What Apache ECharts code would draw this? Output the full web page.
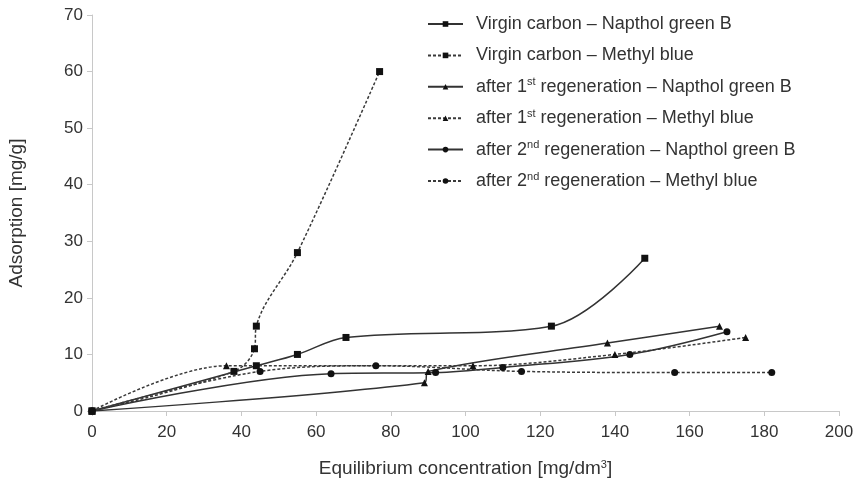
<!DOCTYPE html>
<html>
<head>
<meta charset="utf-8">
<script src="https://cdn.jsdelivr.net/npm/echarts@6.0.0/dist/echarts.min.js"></script>
<style>
  html, body { margin: 0; padding: 0; background: #fff; }
  #chart { width: 854px; height: 480px; }
</style>
</head>
<body>
<div id="chart"></div>
<script>
// ============================================================
// Adsorption vs equilibrium concentration
// ============================================================

var SERIES_NAMES = [
  'Virgin carbon – Napthol green B',
  'Virgin carbon – Methyl blue',
  'after 1{sup|st} regeneration – Napthol green B',
  'after 1{sup|st} regeneration – Methyl blue',
  'after 2{sup|nd} regeneration – Napthol green B',
  'after 2{sup|nd} regeneration – Methyl blue'
];

// [concentration mg/dm3, adsorption mg/g]
var virginNGB = [[0, 0], [44, 8], [55, 10], [68, 13], [123, 15], [148, 27]];
var virginMB = [[0, 0], [38, 7], [43.5, 11], [44, 15], [55, 28], [77, 60]];
var regen1NGB = [[0, 0], [89, 5], [90, 7], [138, 12], [168, 15]];
var regen1MB = [[0, 0], [36, 8], [102, 8], [140, 10], [175, 13]];
var regen2NGB = [[0, 0], [64, 6.6], [92, 6.8], [110, 7.7], [144, 10], [170, 14]];
var regen2MB = [[0, 0], [45, 7], [76, 8], [115, 7], [156, 6.8], [182, 6.8]];

var SERIES_DATA = [virginNGB, virginMB, regen1NGB, regen1MB, regen2NGB, regen2MB];
var SERIES_SYMBOLS = ['rect', 'rect', 'triangle', 'triangle', 'circle', 'circle'];
var SERIES_DASHED = [false, true, false, true, false, true];

var FONT = 'Liberation Sans, Arial, sans-serif';
var SUP = { fontSize: 11, verticalAlign: 'top', lineHeight: 12, color: '#333', fontFamily: FONT };

function buildSeries() {
  return SERIES_DATA.map(function(data, i) {
    var dashed = SERIES_DASHED[i];
    return {
      name: SERIES_NAMES[i],
      type: 'line',
      data: data,
      smooth: 0.35,
      symbol: SERIES_SYMBOLS[i],
      symbolSize: 7,
      showAllSymbol: true,
      lineStyle: {
        color: dashed ? '#3a3a3a' : '#333',
        width: 1.5,
        type: dashed ? [3, 2] : 'solid'
      },
      itemStyle: { color: '#111' },
      z: 3
    };
  });
}

var chart = echarts.init(document.getElementById('chart'), null, { renderer: 'canvas' });

chart.setOption({
  animation: false,
  backgroundColor: '#fff',
  textStyle: { fontFamily: FONT },
  grid: { left: 92, right: 15, top: 15, bottom: 69, containLabel: false, outerBoundsMode: 'none' },
  legend: {
    orient: 'vertical',
    left: 427,
    top: 14,
    padding: 0,
    itemWidth: 35,
    itemHeight: 7,
    itemGap: 11.4,
    data: SERIES_NAMES,
    textStyle: {
      fontFamily: FONT,
      fontSize: 18,
      color: '#333',
      lineHeight: 20,
      padding: [0, 0, 0, 8],
      rich: { sup: SUP }
    }
  },
  xAxis: {
    type: 'value',
    min: 0,
    max: 200,
    interval: 20,
    name: 'Equilibrium concentration [mg/dm{sup|3}]',
    nameLocation: 'middle',
    nameGap: 48,
    nameTextStyle: {
      fontFamily: FONT,
      fontSize: 19,
      color: '#333',
      lineHeight: 20,
      rich: { sup: SUP }
    },
    axisLine: { show: true, lineStyle: { color: '#c8c8c8', width: 1 } },
    axisTick: { show: true, length: 5, lineStyle: { color: '#c8c8c8' } },
    axisLabel: { fontFamily: FONT, fontSize: 17, color: '#333', margin: 13 },
    splitLine: { show: false }
  },
  yAxis: {
    type: 'value',
    min: 0,
    max: 70,
    interval: 10,
    name: 'Adsorption [mg/g]',
    nameLocation: 'middle',
    nameGap: 66,
    nameRotate: 90,
    nameTextStyle: { fontFamily: FONT, fontSize: 19, color: '#333' },
    axisLine: { show: true, lineStyle: { color: '#c8c8c8', width: 1 } },
    axisTick: { show: true, length: 5, lineStyle: { color: '#c8c8c8' } },
    axisLabel: { fontFamily: FONT, fontSize: 17, color: '#333', margin: 9 },
    splitLine: { show: false }
  },
  series: buildSeries()
});
</script>
</body>
</html>
